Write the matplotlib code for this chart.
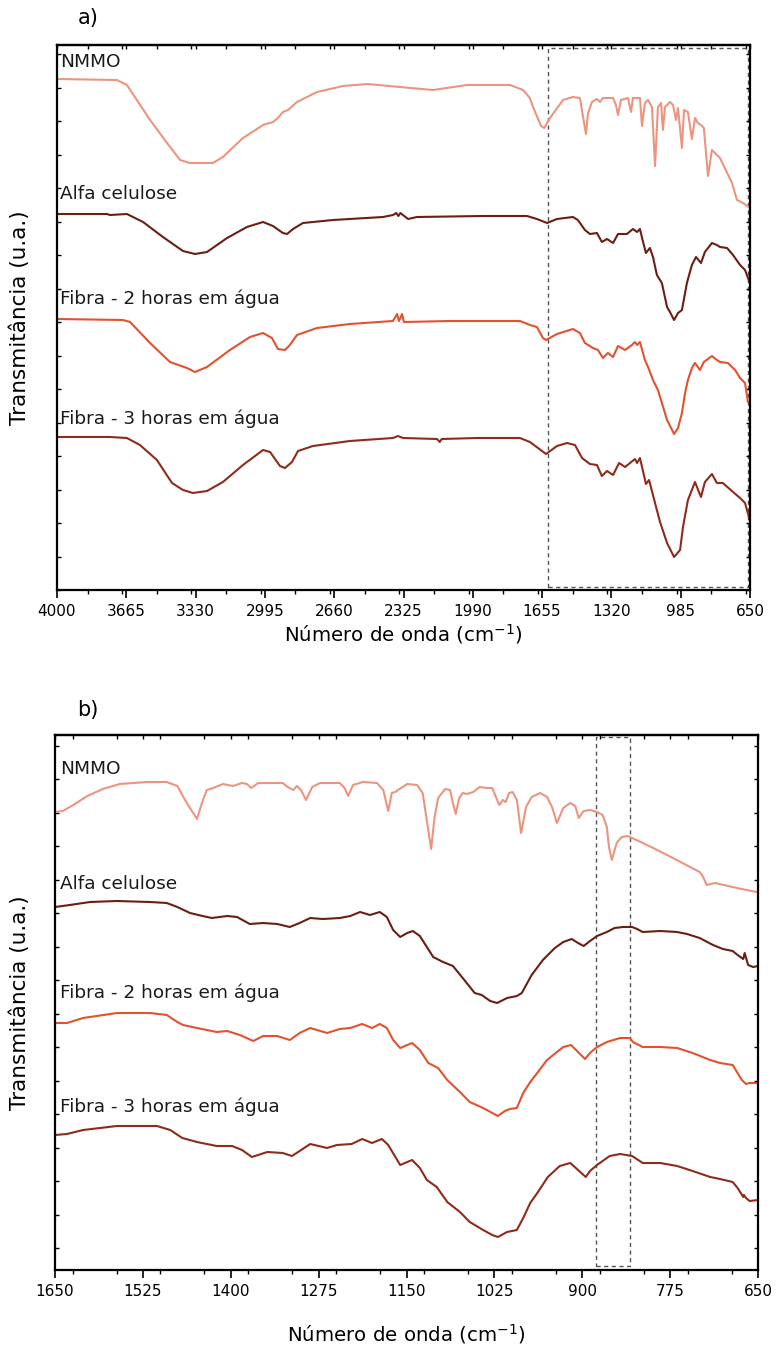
import matplotlib
matplotlib.use("Agg")
import matplotlib.pyplot as plt
from matplotlib.ticker import MultipleLocator
from matplotlib.patches import Rectangle

plt.rcParams['font.family'] = ['DejaVu Sans']

# ---------------- Panel a) full range 4000-650 cm-1 ----------------
a_nmmo_x = [4000, 3710, 3662, 3550, 3468, 3405, 3357, 3246, 3198, 3101, 3004, 2956, 2932, 2908, 2883,
            2840, 2743, 2617, 2501, 2342, 2182, 2018, 1810, 1747, 1714, 1699, 1660, 1645, 1617, 1554,
            1506, 1472, 1457, 1443, 1433, 1414, 1390, 1375, 1361, 1312, 1298, 1288, 1274, 1240, 1225,
            1216, 1182, 1172, 1158, 1143, 1124, 1109, 1095, 1080, 1071, 1061, 1037, 1022, 1008, 998,
            979, 969, 950, 931, 916, 902, 887, 873, 853, 834, 795, 737, 713, 684, 650]
a_nmmo_y = [511, 510, 505, 470, 447, 430, 427, 427, 433, 452, 465, 468, 472, 478, 480,
            488, 498, 504, 506, 503, 500, 505, 505, 500, 492, 483, 464, 462, 472, 490,
            493, 492, 473, 456, 477, 488, 491, 488, 492, 492, 485, 475, 490, 492, 478,
            492, 492, 464, 487, 490, 483, 424, 483, 487, 460, 483, 488, 485, 470, 482,
            442, 480, 478, 451, 472, 467, 465, 462, 414, 440, 432, 407, 390, 387, 382]

a_alfa_x = [4000, 3758, 3744, 3662, 3584, 3488, 3391, 3333, 3275, 3178, 3082, 3004, 2956, 2908, 2888,
            2859, 2811, 2666, 2424, 2376, 2360, 2350, 2340, 2303, 2260, 1941, 1728, 1680, 1631, 1583,
            1506, 1482, 1448, 1424, 1390, 1366, 1341, 1312, 1288, 1245, 1216, 1196, 1182, 1167, 1153,
            1134, 1119, 1100, 1076, 1051, 1037, 1017, 998, 979, 955, 931, 911, 887, 868, 834,
            810, 795, 761, 732, 698, 674, 665, 650]
a_alfa_y = [376, 376, 375, 376, 368, 353, 339, 336, 338, 352, 363, 368, 364, 357, 356,
            361, 367, 370, 373, 375, 377, 374, 377, 371, 373, 374, 374, 371, 367, 371,
            373, 370, 360, 356, 357, 348, 351, 347, 356, 356, 361, 358, 361, 348, 337,
            342, 333, 315, 307, 283, 278, 270, 277, 280, 307, 325, 333, 327, 338, 347,
            345, 343, 342, 335, 325, 320, 315, 307]

a_f2_x = [4000, 3681, 3647, 3550, 3454, 3372, 3333, 3275, 3164, 3067, 3004, 2961, 2932, 2898, 2874,
          2840, 2743, 2584, 2376, 2356, 2347, 2332, 2323, 2100, 1762, 1714, 1680, 1651, 1636, 1583,
          1506, 1472, 1448, 1409, 1385, 1361, 1337, 1312, 1288, 1254, 1221, 1206, 1196, 1182, 1158,
          1143, 1119, 1095, 1051, 1017, 998, 979, 964, 950, 931, 916, 892, 873, 834, 810,
          795, 757, 722, 698, 674, 660, 650]
a_f2_y = [271, 270, 268, 247, 228, 222, 218, 223, 240, 253, 257, 252, 241, 240, 245,
          255, 262, 266, 269, 276, 269, 276, 268, 269, 269, 265, 263, 252, 250, 256,
          261, 257, 247, 242, 240, 232, 237, 233, 244, 240, 245, 248, 245, 248, 230,
          223, 210, 200, 170, 156, 162, 177, 197, 210, 222, 227, 220, 228, 234, 230,
          228, 227, 220, 212, 207, 188, 187]

a_f3_x = [4000, 3744, 3662, 3599, 3517, 3444, 3391, 3343, 3275, 3198, 3101, 3004, 2970, 2922, 2898,
          2864, 2835, 2763, 2584, 2376, 2352, 2327, 2163, 2150, 2140, 1970, 1762, 1714, 1675, 1636,
          1583, 1535, 1496, 1462, 1424, 1390, 1366, 1341, 1312, 1283, 1254, 1230, 1206, 1196, 1182,
          1153, 1138, 1109, 1085, 1051, 1017, 988, 974, 950, 916, 887, 868, 834, 810, 781,
          732, 698, 674, 650]
a_f3_y = [153, 153, 152, 145, 130, 107, 100, 97, 99, 108, 125, 140, 138, 124, 122,
          128, 139, 144, 149, 152, 154, 152, 151, 148, 151, 152, 152, 148, 142, 136,
          144, 147, 145, 132, 126, 125, 114, 119, 115, 127, 123, 127, 131, 127, 132,
          106, 110, 87, 68, 47, 33, 40, 63, 90, 108, 93, 108, 116, 107, 107,
          98, 92, 87, 69]

a_ticks = [4000, 3665, 3330, 2995, 2660, 2325, 1990, 1655, 1320, 985, 650]

# ---------------- Panel b) zoom 1650-650 cm-1 ----------------
b_nmmo_x = [1650, 1639, 1624, 1604, 1582, 1558, 1519, 1491, 1476, 1465, 1458, 1448, 1441, 1434, 1425,
            1411, 1397, 1384, 1377, 1371, 1361, 1326, 1319, 1311, 1306, 1300, 1293, 1284, 1273, 1245,
            1238, 1233, 1226, 1212, 1192, 1183, 1176, 1171, 1166, 1162, 1149, 1135, 1127, 1124, 1115,
            1110, 1105, 1095, 1088, 1084, 1080, 1075, 1070, 1064, 1055, 1046, 1036, 1028, 1024, 1018,
            1013, 1009, 1004, 999, 993, 987, 980, 972, 960, 950, 943, 936, 927, 917, 910,
            905, 898, 889, 879, 871, 865, 862, 858, 851, 844, 835, 799, 771, 733, 728,
            723, 711, 680, 652]
b_nmmo_y = [436, 437, 443, 452, 459, 464, 466, 466, 462, 448, 440, 429, 445, 458, 460,
            464, 462, 465, 464, 460, 465, 465, 461, 458, 462, 458, 448, 461, 465, 465,
            460, 452, 463, 466, 465, 458, 437, 455, 456, 458, 464, 463, 455, 441, 399,
            431, 450, 459, 458, 445, 434, 450, 455, 454, 456, 461, 460, 460, 453, 443,
            448, 446, 455, 456, 448, 415, 441, 451, 455, 451, 441, 425, 440, 445, 442,
            430, 437, 438, 436, 433, 421, 401, 388, 405, 411, 412, 400, 390, 376, 371,
            363, 365, 360, 356]

b_alfa_x = [1650, 1629, 1600, 1562, 1515, 1491, 1476, 1458, 1440, 1427, 1405, 1391, 1373, 1354, 1334,
            1316, 1302, 1287, 1269, 1245, 1230, 1216, 1202, 1188, 1178, 1169, 1159, 1149, 1141, 1131,
            1112, 1098, 1084, 1070, 1053, 1043, 1031, 1021, 1007, 993, 986, 972, 956, 939, 927,
            915, 906, 898, 889, 879, 865, 854, 842, 829, 822, 814, 789, 765, 751, 733,
            714, 700, 686, 679, 671, 669, 664, 657, 650]
b_alfa_y = [341, 343, 346, 347, 346, 345, 341, 335, 332, 330, 332, 331, 324, 325, 324,
            321, 325, 330, 329, 330, 332, 336, 333, 336, 331, 318, 311, 315, 317, 312,
            291, 286, 282, 270, 255, 253, 247, 245, 250, 252, 255, 273, 288, 300, 306,
            309, 305, 302, 307, 312, 316, 320, 321, 321, 319, 316, 317, 316, 314, 310,
            303, 299, 297, 293, 289, 295, 283, 281, 282]

b_f2_x = [1650, 1633, 1610, 1562, 1515, 1491, 1476, 1468, 1448, 1420, 1405, 1387, 1368, 1354, 1334,
          1316, 1302, 1287, 1263, 1245, 1230, 1213, 1199, 1188, 1178, 1169, 1159, 1142, 1131, 1119,
          1105, 1092, 1074, 1060, 1041, 1028, 1020, 1010, 1003, 993, 984, 974, 963, 950, 936,
          927, 916, 906, 896, 889, 879, 865, 846, 832, 828, 814, 789, 765, 743, 718,
          704, 686, 679, 673, 667, 662, 650]
b_f2_y = [225, 225, 230, 235, 235, 233, 226, 223, 220, 216, 217, 213, 207, 212, 212,
          208, 215, 220, 215, 219, 220, 224, 220, 224, 220, 208, 200, 205, 198, 185,
          180, 168, 156, 146, 140, 135, 132, 137, 139, 140, 155, 166, 176, 188, 196,
          201, 203, 196, 189, 195, 201, 206, 210, 210, 206, 201, 201, 200, 195, 188,
          185, 183, 175, 168, 164, 165, 165]

b_f3_x = [1650, 1633, 1610, 1562, 1505, 1486, 1469, 1448, 1420, 1398, 1384, 1370, 1348, 1326, 1313,
          1302, 1287, 1263, 1249, 1228, 1213, 1199, 1185, 1176, 1159, 1142, 1131, 1121, 1107, 1092,
          1074, 1060, 1041, 1028, 1020, 1007, 993, 984, 974, 963, 949, 932, 917, 906, 895,
          889, 879, 861, 846, 829, 814, 789, 765, 743, 718, 704, 686, 679, 671, 670,
          667, 662, 650]
b_f3_y = [113, 114, 118, 122, 122, 118, 110, 106, 102, 102, 98, 91, 96, 95, 92,
          97, 104, 100, 103, 104, 109, 105, 109, 103, 83, 88, 80, 68, 61, 46,
          36, 26, 18, 13, 11, 16, 18, 30, 45, 56, 71, 82, 85, 78, 71,
          77, 83, 92, 94, 92, 85, 85, 82, 77, 71, 69, 66, 60, 51, 53,
          50, 47, 48]

b_ticks = [1650, 1525, 1400, 1275, 1150, 1025, 900, 775, 650]

labels = ["NMMO", "Alfa celulose", "Fibra - 2 horas em água", "Fibra - 3 horas em água"]
colors = ["#EB9580", "#6A1F14", "#E2522F", "#8E2B1A"]

W, H = 783, 1355
fig = plt.figure(figsize=(W / 100, H / 100), dpi=100)
# axes placed from pixel measurements of the reference frame
axa = fig.add_axes([57 / W, 1 - 590 / H, 693 / W, 545 / H])
axb = fig.add_axes([55 / W, 1 - 1270 / H, 703 / W, 535 / H])


def style(ax, ticks, step):
    ax.set_xticks(ticks)
    ax.xaxis.set_minor_locator(MultipleLocator(step / 2))
    ax.yaxis.set_major_locator(MultipleLocator(33.5))
    ax.set_yticklabels([])
    ax.tick_params(axis='x', which='major', direction='out', length=6, width=1.2,
                   labelsize=11, top=False, pad=4)
    ax.tick_params(axis='x', which='minor', direction='out', length=3, width=1.0, top=False)
    ax.tick_params(axis='y', which='major', direction='in', length=3, width=1.0,
                   left=True, right=True, labelleft=False)
    for s in ax.spines.values():
        s.set_linewidth(1.6)
    sec = ax.secondary_xaxis('top')
    sec.set_xticks(ticks)
    sec.xaxis.set_minor_locator(MultipleLocator(step / 2))
    sec.tick_params(axis='x', which='both', direction='in', length=3, width=1.0, labeltop=False)
    sec.spines['top'].set_linewidth(1.6)


# panel a
for xs, ys, c in zip([a_nmmo_x, a_alfa_x, a_f2_x, a_f3_x], [a_nmmo_y, a_alfa_y, a_f2_y, a_f3_y], colors):
    axa.plot(xs, ys, color=c, lw=1.5, solid_joinstyle='round')
axa.set_xlim(4000, 650)
axa.set_ylim(0, 545)
style(axa, a_ticks, 335)
axa.add_patch(Rectangle((1627, 3), -(1627 - 660), 539, fill=False, ls=(0, (3, 2.5)),
                        lw=1.0, ec='#555555'))
for txt, yy in zip(labels, [528, 396, 291, 171]):
    axa.text(3985, yy, txt, fontsize=13.3, va='center', ha='left', color='#1a1a1a')
axa.set_xlabel("Número de onda (cm$^{-1}$)", fontsize=14.2)
axa.xaxis.set_label_coords(0.5, (590 - 622) / 545)
axa.set_ylabel("Transmitância (u.a.)", fontsize=15.5)
axa.yaxis.set_label_coords((30 - 57) / 693, 0.5)

# panel b
for xs, ys, c in zip([b_nmmo_x, b_alfa_x, b_f2_x, b_f3_x], [b_nmmo_y, b_alfa_y, b_f2_y, b_f3_y], colors):
    axb.plot(xs, ys, color=c, lw=1.5, solid_joinstyle='round')
axb.set_xlim(1650, 650)
axb.set_ylim(-22, 513)
style(axb, b_ticks, 125)
axb.add_patch(Rectangle((880, -18), -48, 529, fill=False, ls=(0, (3, 2.5)),
                        lw=1.0, ec='#555555'))
for txt, yy in zip(labels, [479, 364, 255, 141]):
    axb.text(1643, yy, txt, fontsize=13.3, va='center', ha='left', color='#1a1a1a')
axb.set_xlabel("Número de onda (cm$^{-1}$)", fontsize=14.2)
axb.xaxis.set_label_coords(0.5, (1270 - 1322) / 535)
axb.set_ylabel("Transmitância (u.a.)", fontsize=15.5)
axb.yaxis.set_label_coords((30 - 55) / 703, 0.5)

fig.text(88 / W, 1 - 18 / H, "a)", fontsize=15, ha='center', va='center')
fig.text(88 / W, 1 - 710 / H, "b)", fontsize=15, ha='center', va='center')

fig.savefig("out.png", dpi=100)
